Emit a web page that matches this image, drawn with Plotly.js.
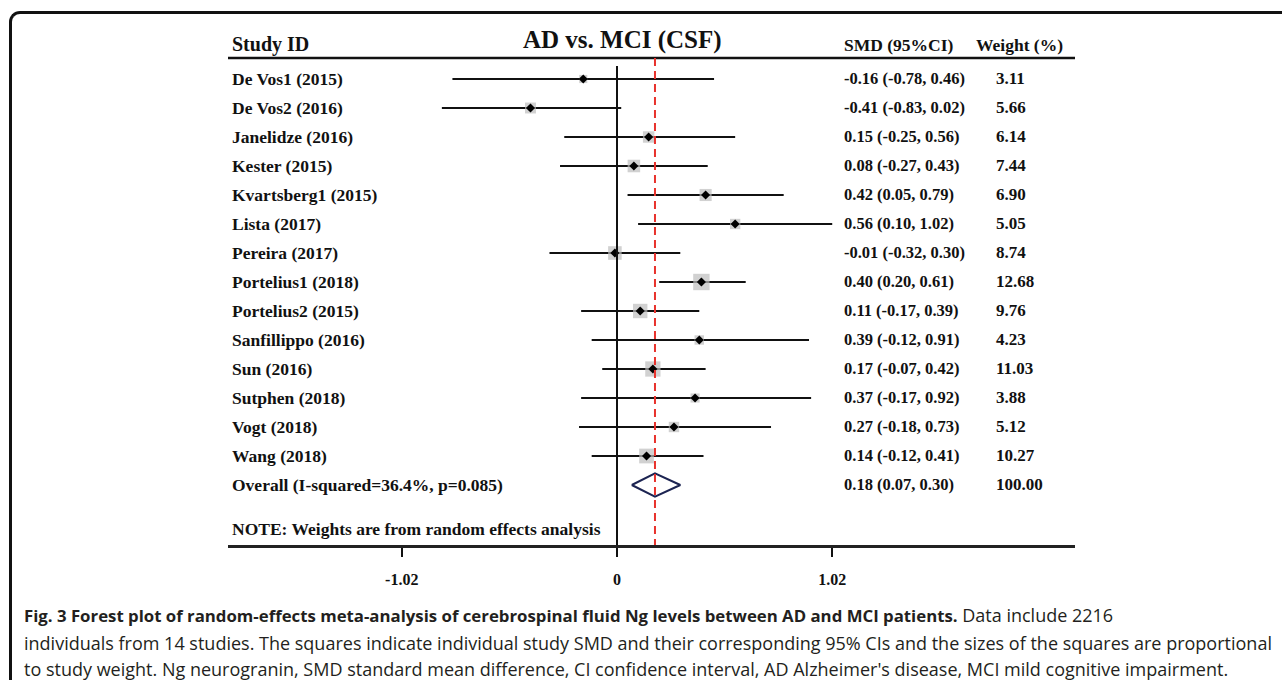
<!DOCTYPE html>
<html>
<head>
<meta charset="utf-8">
<script src="https://cdn.plot.ly/plotly-3.0.1.min.js"></script>
<style>
  html, body { margin: 0; padding: 0; background: #ffffff; overflow: hidden; }
  #frame { position: absolute; left: 9px; top: 11px; width: 1320px; height: 720px;
           border-top: 3px solid #111; border-left: 3px solid #111; border-top-left-radius: 11px; }
  #chart { position: absolute; left: 0; top: 0; width: 1282px; height: 680px; }
</style>
</head>
<body>
<div id="frame"></div>
<div id="chart"></div>
<script>
// ---- data ----
const studies = ["De Vos1 (2015)", "De Vos2 (2016)", "Janelidze (2016)", "Kester (2015)",
  "Kvartsberg1 (2015)", "Lista (2017)", "Pereira (2017)", "Portelius1 (2018)",
  "Portelius2 (2015)", "Sanfillippo (2016)", "Sun (2016)", "Sutphen (2018)",
  "Vogt (2018)", "Wang (2018)"];
const smd    = [-0.16, -0.41, 0.15, 0.08, 0.42, 0.56, -0.01, 0.40, 0.11, 0.39, 0.17, 0.37, 0.27, 0.14];
const lower  = [-0.78, -0.83, -0.25, -0.27, 0.05, 0.10, -0.32, 0.20, -0.17, -0.12, -0.07, -0.17, -0.18, -0.12];
const upper  = [0.46, 0.02, 0.56, 0.43, 0.79, 1.02, 0.30, 0.61, 0.39, 0.91, 0.42, 0.92, 0.73, 0.41];
const weight = [3.11, 5.66, 6.14, 7.44, 6.90, 5.05, 8.74, 12.68, 9.76, 4.23, 11.03, 3.88, 5.12, 10.27];
const overallLabel = "Overall (I-squared=36.4%, p=0.085)";
const overallEst = 0.18, overallLo = 0.07, overallHi = 0.30, overallWeight = 100.00;
const tickVals = [-1.02, 0, 1.02];
const tickText = ["-1.02", "0", "1.02"];
const titleText = "AD vs. MCI (CSF)";
const noteText = "NOTE: Weights are from random effects analysis";
const captionBold = "Fig. 3 Forest plot of random-effects meta-analysis of cerebrospinal fluid Ng levels between AD and MCI patients.";
const captionLines = [
  " Data include 2216",
  "individuals from 14 studies. The squares indicate individual study SMD and their corresponding 95% CIs and the sizes of the squares are proportional",
  "to study weight. Ng neurogranin, SMD standard mean difference, CI confidence interval, AD Alzheimer's disease, MCI mild cognitive impairment."
];

// ---- geometry helpers ----
const W = 1282, H = 680;
const px = v => v / W;            // paper x from pixel
const py = v => 1 - v / H;        // paper y from pixel
const rows = studies.map((_, i) => i);
const overallRow = studies.length;

const serif = "Liberation Serif, Times New Roman, serif";
const fmt = v => v.toFixed(2);

// ---- traces ----
const squares = {
  type: "scatter", mode: "markers", x: smd, y: rows, hoverinfo: "skip",
  marker: { symbol: "square", color: "#bdbdbd", size: weight.map(w => 4.6 * Math.sqrt(w)), line: { width: 0 } },
  error_x: { type: "data", symmetric: false,
             array: upper.map((u, i) => u - smd[i]), arrayminus: smd.map((s, i) => s - lower[i]),
             color: "#111111", thickness: 2, width: 0 }
};
const points = {
  type: "scatter", mode: "markers", x: smd, y: rows, hoverinfo: "skip",
  marker: { symbol: "diamond", color: "#000000", size: 7 }
};
const dh = 0.4;
const diamond = {
  type: "scatter", mode: "lines", hoverinfo: "skip",
  x: [overallLo, overallEst, overallHi, overallEst, overallLo],
  y: [overallRow, overallRow - dh, overallRow, overallRow + dh, overallRow],
  fill: "toself", fillcolor: "#ffffff", line: { color: "#1c2452", width: 2 }
};

// ---- annotations ----
const ann = [];
const txt = (text, x, y, size, opts = {}) => Object.assign({
  text, x, y, xref: "paper", yref: "paper", showarrow: false, xanchor: "left", yanchor: "middle",
  font: { family: serif, size, color: "#111111" }
}, opts);

const labelX = 230, smdX = 842, wX = 994;
ann.push(txt("<b>Study ID</b>", px(labelX), py(45), 20));
ann.push(txt("<b>" + titleText + "</b>", px(622), py(40), 25, { xanchor: "center" }));
ann.push(txt("<b>SMD (95%CI)</b>", px(smdX), py(45), 17.5));
ann.push(txt("<b>Weight (%)</b>", px(974), py(45), 17.5));

studies.forEach((s, i) => {
  ann.push(txt("<b>" + s + "</b>", px(labelX), i, 17.5, { yref: "y" }));
  ann.push(txt("<b>" + fmt(smd[i]) + " (" + fmt(lower[i]) + ", " + fmt(upper[i]) + ")</b>", px(smdX), i, 16.5, { yref: "y" }));
  ann.push(txt("<b>" + fmt(weight[i]) + "</b>", px(wX), i, 17, { yref: "y" }));
});
ann.push(txt("<b>" + overallLabel + "</b>", px(labelX), overallRow, 17.5, { yref: "y" }));
ann.push(txt("<b>" + fmt(overallEst) + " (" + fmt(overallLo) + ", " + fmt(overallHi) + ")</b>", px(smdX), overallRow, 16.5, { yref: "y" }));
ann.push(txt("<b>" + fmt(overallWeight) + "</b>", px(wX), overallRow, 17, { yref: "y" }));
ann.push(txt("<b>" + noteText + "</b>", px(labelX), py(529), 17.5));

const capY = [615, 643, 669];
const capFont = { family: "Open Sans, sans-serif", size: 18, color: "#231f20" };
ann.push(txt('<b><span style="font-size:16.8px">' + captionBold + '</span></b>' + captionLines[0],
  px(22), py(capY[0]), 18, { font: capFont }));
ann.push(txt(captionLines[1], px(22), py(capY[1]), 18, { font: capFont }));
ann.push(txt(captionLines[2], px(22), py(capY[2]), 18, { font: capFont }));

// ---- shapes ----
const yTopPix = 30, yBotPix = 545, row0Pix = 79, rowStep = 29;
const yRange = [(yBotPix - row0Pix) / rowStep, (yTopPix - row0Pix) / rowStep];
const pixToRow = p => (p - row0Pix) / rowStep;

const xL = 228, xR = 1075, x0Pix = 617, pxPerUnit = 211;

const shapes = [
  { type: "line", xref: "paper", yref: "paper", x0: px(xL), x1: px(xR), y0: py(58), y1: py(58),
    line: { color: "#111111", width: 2.5 } },
  { type: "line", xref: "x", yref: "y", x0: 0, x1: 0, y0: pixToRow(66), y1: yRange[0],
    line: { color: "#111111", width: 2 } },
  { type: "line", xref: "x", yref: "y", x0: overallEst, x1: overallEst, y0: pixToRow(58), y1: yRange[0],
    line: { color: "#e8322c", width: 2, dash: "8px,5px" } }
];

const layout = {
  width: W, height: H, margin: { l: 0, r: 0, t: 0, b: 0, pad: 0 },
  paper_bgcolor: "rgba(0,0,0,0)", plot_bgcolor: "rgba(0,0,0,0)",
  showlegend: false,
  xaxis: {
    domain: [px(xL), px(xR)],
    range: [(xL - x0Pix) / pxPerUnit, (xR - x0Pix) / pxPerUnit],
    tickvals: tickVals, ticktext: tickText,
    ticks: "outside", ticklen: 9, tickwidth: 2, tickcolor: "#111111",
    showline: true, linecolor: "#222222", linewidth: 2.5,
    showgrid: false, zeroline: false, fixedrange: true,
    ticklabelstandoff: 9,
    tickfont: { family: serif, size: 16, color: "#111111", weight: "bold" }
  },
  yaxis: {
    domain: [1 - yBotPix / H, 1 - yTopPix / H],
    range: yRange, visible: false, showgrid: false, zeroline: false, fixedrange: true
  },
  annotations: ann, shapes: shapes
};

Plotly.newPlot("chart", [squares, points, diamond], layout, { displayModeBar: false, staticPlot: true });
</script>
</body>
</html>
